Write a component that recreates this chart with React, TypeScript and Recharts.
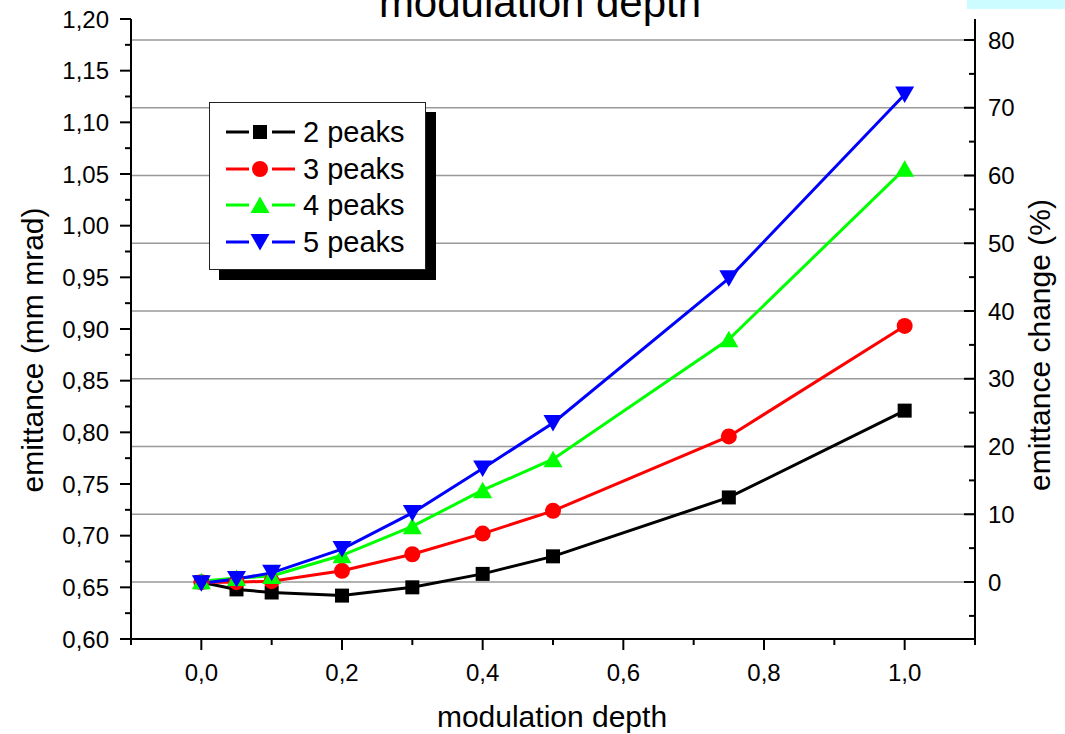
import React from 'react';
import { LineChart, Line, XAxis, YAxis, ReferenceLine, Legend } from 'recharts';

// modulation depth values (x) and emittance per series (mm mrad)
const modulationDepth = [0, 0.05, 0.1, 0.2, 0.3, 0.4, 0.5, 0.75, 1.0];
const peaks2 = [0.655, 0.648, 0.645, 0.642, 0.650, 0.663, 0.680, 0.737, 0.821];
const peaks3 = [0.655, 0.655, 0.656, 0.666, 0.682, 0.702, 0.724, 0.796, 0.903];
const peaks4 = [0.656, 0.659, 0.661, 0.681, 0.709, 0.744, 0.774, 0.890, 1.055];
const peaks5 = [0.654, 0.658, 0.664, 0.687, 0.722, 0.765, 0.809, 0.949, 1.127];

// axis ticks (majors carry labels, the rest are minor marks)
const xTicks = [-0.1, 0, 0.1, 0.2, 0.3, 0.4, 0.5, 0.6, 0.7, 0.8, 0.9, 1.0, 1.1];
const leftTicks = [
  0.6, 0.625, 0.65, 0.675, 0.7, 0.725, 0.75, 0.775, 0.8, 0.825, 0.85, 0.875, 0.9,
  0.925, 0.95, 0.975, 1.0, 1.025, 1.05, 1.075, 1.1, 1.125, 1.15, 1.175, 1.2,
];
const rightTicks = [-5, 0, 5, 10, 15, 20, 25, 30, 35, 40, 45, 50, 55, 60, 65, 70, 75, 80];
const gridValues = [0, 10, 20, 30, 40, 50, 60, 70, 80];

const seriesNames = ['2 peaks', '3 peaks', '4 peaks', '5 peaks'];
const seriesColors = ['#000000', '#ff0000', '#00ff00', '#0000ff'];

const data = modulationDepth.map((m, i) => ({
  m,
  p2: peaks2[i],
  p3: peaks3[i],
  p4: peaks4[i],
  p5: peaks5[i],
}));

const FONT = '"Liberation Sans", Arial, Helvetica, sans-serif';

type ShapeKind = 'square' | 'circle' | 'up' | 'down';
const shapes: Record<string, ShapeKind> = { p2: 'square', p3: 'circle', p4: 'up', p5: 'down' };

function Marker({ kind, cx, cy, color }: { kind: ShapeKind; cx: number; cy: number; color: string }) {
  if (kind === 'square') {
    return <rect x={cx - 7} y={cy - 7} width={14} height={14} fill={color} />;
  }
  if (kind === 'circle') {
    return <circle cx={cx} cy={cy} r={8} fill={color} />;
  }
  if (kind === 'up') {
    return <polygon points={`${cx},${cy - 8.5} ${cx + 9.5},${cy + 8} ${cx - 9.5},${cy + 8}`} fill={color} />;
  }
  return <polygon points={`${cx - 9.5},${cy - 8} ${cx + 9.5},${cy - 8} ${cx},${cy + 8.5}`} fill={color} />;
}

const makeDot = (kind: ShapeKind, color: string) => (props: any) => {
  const { cx, cy, index } = props;
  if (cx == null || cy == null) return <g key={`e-${index}`} />;
  return (
    <g key={`d-${kind}-${index}`}>
      <Marker kind={kind} cx={cx} cy={cy} color={color} />
    </g>
  );
};

const tickText = { fontFamily: FONT, fontSize: 24, fill: '#000' };

function XTick(props: any) {
  const { x, y, payload } = props;
  const v = payload.value as number;
  const major = Math.round(v * 10) % 2 === 0;
  return (
    <g>
      <line x1={x} x2={x} y1={y} y2={y + (major ? 11 : 6)} stroke="#000" strokeWidth={2} />
      {major && (
        <text x={x} y={y + 42} textAnchor="middle" {...tickText}>
          {v.toFixed(1).replace('.', ',')}
        </text>
      )}
    </g>
  );
}

function LeftTick(props: any) {
  const { x, y, payload } = props;
  const v = payload.value as number;
  const major = Math.round(v * 40) % 2 === 0;
  return (
    <g>
      <line x1={x - (major ? 11 : 6)} x2={x} y1={y} y2={y} stroke="#000" strokeWidth={2} />
      {major && (
        <text x={x - 22} y={y + 8.5} textAnchor="end" {...tickText}>
          {v.toFixed(2).replace('.', ',')}
        </text>
      )}
    </g>
  );
}

function RightTick(props: any) {
  const { x, y, payload } = props;
  const v = payload.value as number;
  const major = v % 10 === 0;
  return (
    <g>
      <line x1={x - (major ? 11 : 6)} x2={x} y1={y} y2={y} stroke="#000" strokeWidth={2} />
      {major && (
        <text x={x + 13} y={y + 8.5} textAnchor="start" {...tickText}>
          {String(v)}
        </text>
      )}
    </g>
  );
}

function LegendBox(props: any) {
  const payload = (props.payload || []) as any[];
  return (
    <div
      style={{
        position: 'relative',
        width: 217,
        height: 168,
        boxSizing: 'border-box',
        border: '1px solid #222',
        background: '#fff',
        boxShadow: '10px 10px 0 0 #000',
        paddingTop: 11,
        fontFamily: FONT,
      }}
    >
      {payload.map((entry) => {
        const kind = shapes[entry.dataKey as string];
        const color = entry.color as string;
        return (
          <div
            key={String(entry.dataKey)}
            style={{ display: 'flex', alignItems: 'center', height: 36.5 }}
          >
            <svg width={93} height={36} style={{ flex: 'none', display: 'block' }}>
              <line x1={16} x2={39} y1={18} y2={18} stroke={color} strokeWidth={3} />
              <line x1={62} x2={85} y1={18} y2={18} stroke={color} strokeWidth={3} />
              <Marker kind={kind} cx={50} cy={18} color={color} />
            </svg>
            <span style={{ fontSize: 29, lineHeight: '36px', color: '#000', whiteSpace: 'nowrap' }}>
              {entry.value}
            </span>
          </div>
        );
      })}
    </div>
  );
}

const titleStyle = { fontFamily: FONT, fontSize: 30, fill: '#000' };

export default function App() {
  const keys = ['p2', 'p3', 'p4', 'p5'];
  return (
    <div style={{ position: 'absolute', left: 0, top: 0, width: 1065, height: 734, background: '#fff' }}>
      <LineChart width={1065} height={734} data={data} margin={{ top: 19, right: 0, bottom: 0, left: 0 }}>
        <XAxis
          dataKey="m"
          type="number"
          domain={[-0.1, 1.1]}
          ticks={xTicks}
          interval={0}
          height={95}
          tickSize={0}
          tickMargin={0}
          tickLine={false}
          axisLine={{ stroke: '#000', strokeWidth: 2 }}
          tick={(p: any) => <XTick {...p} />}
          allowDataOverflow
          label={{
            content: () => (
              <text x={552} y={727} textAnchor="middle" {...titleStyle}>
                modulation depth
              </text>
            ),
          }}
        />
        <YAxis
          yAxisId="left"
          type="number"
          domain={[0.6, 1.2]}
          ticks={leftTicks}
          interval={0}
          width={131}
          tickSize={0}
          tickMargin={0}
          tickLine={false}
          axisLine={{ stroke: '#000', strokeWidth: 2 }}
          tick={(p: any) => <LeftTick {...p} />}
          allowDataOverflow
          label={{
            content: () => (
              <text x={43} y={350} textAnchor="middle" transform="rotate(-90 43 350)" {...titleStyle}>
                emittance (mm mrad)
              </text>
            ),
          }}
        />
        <YAxis
          yAxisId="right"
          orientation="right"
          type="number"
          domain={[-8.41, 83.1]}
          ticks={rightTicks}
          interval={0}
          width={90}
          tickSize={0}
          tickMargin={0}
          tickLine={false}
          axisLine={{ stroke: '#000', strokeWidth: 2 }}
          tick={(p: any) => <RightTick {...p} />}
          allowDataOverflow
          label={{
            content: () => (
              <text x={1050} y={345} textAnchor="middle" transform="rotate(-90 1050 345)" {...titleStyle}>
                emittance change (%)
              </text>
            ),
          }}
        />
        {gridValues.map((g) => (
          <ReferenceLine key={`g${g}`} yAxisId="right" y={g} stroke="#999999" strokeWidth={1.5} />
        ))}
        {keys.map((k, i) => (
          <Line
            key={k}
            yAxisId="left"
            type="linear"
            dataKey={k}
            name={seriesNames[i]}
            stroke={seriesColors[i]}
            strokeWidth={3}
            dot={makeDot(shapes[k], seriesColors[i])}
            activeDot={false}
            isAnimationActive={false}
          />
        ))}
        <Legend
          layout="vertical"
          align="center"
          verticalAlign="middle"
          content={(p: any) => <LegendBox {...p} />}
          wrapperStyle={{ left: 209, top: 102, width: 217, height: 168 }}
        />
      </LineChart>
      <svg
        width={1065}
        height={734}
        style={{ position: 'absolute', left: 0, top: 0, pointerEvents: 'none' }}
      >
        <rect x={967} y={0} width={98} height={9} fill="#ccfcff" />
        <text x={540} y={17} textAnchor="middle" fontFamily={FONT} fontSize={42} fill="#000">
          modulation depth
        </text>
      </svg>
    </div>
  );
}
